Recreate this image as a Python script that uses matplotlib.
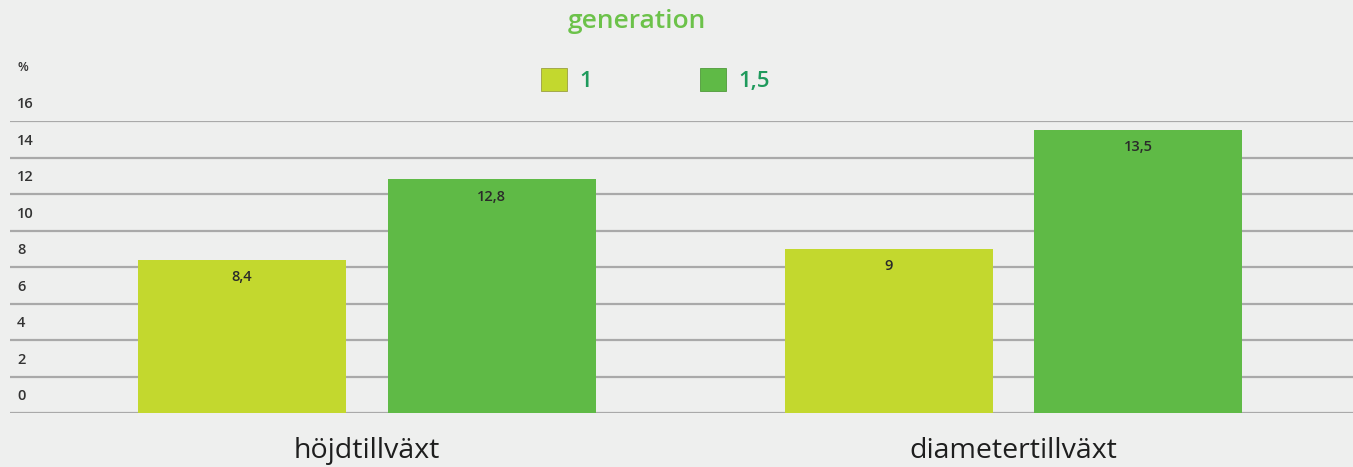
import matplotlib.pyplot as plt
from matplotlib.patches import Patch
import numpy as np

plt.rcParams['font.family'] = ['Open Sans', 'DejaVu Sans']

categories = ["höjdtillväxt", "diametertillväxt"]
series_names = ["1", "1,5"]
# bar heights as drawn in the picture, and the labels printed on them
heights = {"1": [8.4, 9.0], "1,5": [12.8, 15.5]}
labels = {"1": ["8,4", "9"], "1,5": ["12,8", "13,5"]}
yticks = [0, 2, 4, 6, 8, 10, 12, 14, 16]
colors = {"1": "#c3d82e", "1,5": "#5fba46"}

bg = "#eeefee"
fig = plt.figure(figsize=(13.53, 4.67), dpi=100, facecolor=bg)
ax = fig.add_axes([10 / 1353, 54 / 467, 1343 / 1353, 292 / 467])
ax.set_facecolor(bg)

x = np.arange(len(categories))
width = 0.322
offsets = {"1": -0.193, "1,5": 0.193}

for t in yticks:
    ax.axhline(t, color="#a9a9a9", lw=1.6, zorder=1)
    ax.annotate(str(t), xy=(7 / 1343, t), xycoords=("axes fraction", "data"),
                xytext=(0, 12), textcoords="offset points", ha="left", va="center",
                fontsize=10.5, color="#333333", fontweight="semibold", annotation_clip=False)
ax.annotate("%", xy=(7 / 1343, 18), xycoords=("axes fraction", "data"),
            xytext=(0, 12), textcoords="offset points", ha="left", va="center",
            fontsize=9, color="#333333", fontweight="semibold", annotation_clip=False)

for s in series_names:
    bars = ax.bar(x + offsets[s], heights[s], width, color=colors[s], zorder=2)
    for b, lab in zip(bars, labels[s]):
        ax.annotate(lab, xy=(b.get_x() + b.get_width() / 2, b.get_height()),
                    xytext=(0, -12.5), textcoords="offset points", ha="center", va="center",
                    fontsize=10.5, color="#2a2a2a", fontweight="semibold")

ax.set_xlim(-0.552, 1.525)
ax.set_ylim(0, 16)
ax.set_xticks(x)
ax.set_xticklabels(categories, fontsize=20.5, color="#1e1e1e")
ax.tick_params(axis="x", length=0, pad=17)
ax.set_yticks([])
for sp in ax.spines.values():
    sp.set_visible(False)

fig.text(637 / 1353, 1 - 22 / 467, "generation", ha="center", va="center",
         fontsize=19, color="#6cc24a", fontweight="semibold")

handles = [Patch(facecolor=colors[s], edgecolor="#9aa040" if s == "1" else "#4f9a3a", lw=0.6) for s in series_names]
leg = fig.legend(handles, series_names, loc="center left", bbox_to_anchor=(541 / 1353, 1 - 80 / 467),
                 ncol=2, frameon=False, fontsize=16, handlelength=1.17, handleheight=1.17,
                 handletextpad=0.55, columnspacing=4.85, borderpad=0, borderaxespad=0)
for t in leg.get_texts():
    t.set_color("#1e9a5c")
    t.set_fontweight("semibold")

fig.savefig("out.png", dpi=100, facecolor=bg)
